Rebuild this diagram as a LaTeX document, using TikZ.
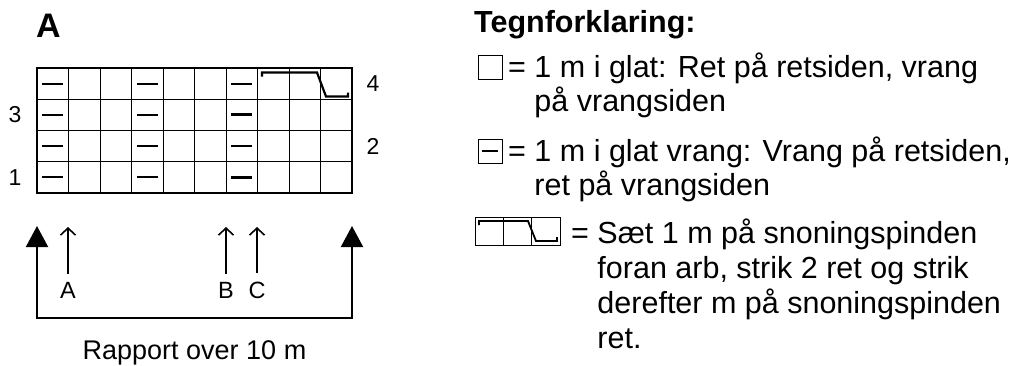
\documentclass[tikz,border=0pt]{standalone}
\usepackage{fontspec}
\setmainfont{Liberation Sans}
\usetikzlibrary{arrows.meta}
\begin{document}
\begin{tikzpicture}[x=1pt,y=-1pt,
  gridline/.style={line width=0.9pt},
  chartframe/.style={line width=2.2pt},
  purl/.style={line width=2pt},
  purlbold/.style={line width=2.8pt},
  cablepath/.style={line width=2.2pt, line join=miter},
  rownum/.style={font=\fontsize{23}{23}\selectfont, inner sep=0pt},
  posmark/.style={font=\fontsize{23.5}{23.5}\selectfont, inner sep=0pt},
  legtext/.style={font=\fontsize{30.5}{35}\selectfont, inner sep=0pt, anchor=base west},
  smallarrow/.style={line width=1.6pt, -{Straight Barb[length=7pt,width=15pt]}},
  bigarrow/.style={line width=2pt, {Triangle[length=21pt,width=22pt]}-{Triangle[length=21pt,width=22pt]}},
  legbox/.style={line width=1pt}
]
\useasboundingbox (0,0) rectangle (1015,365);

% chart title
\node[font=\fontsize{34}{34}\selectfont\bfseries, inner sep=0pt, anchor=base] (title) at (48.5,37) {A};

% chart grid: 10 stitches x 4 rows
\foreach \i in {1,...,9}
  \draw[gridline] ({37+31.5*\i},68) -- ({37+31.5*\i},193);
\foreach \j in {1,2,3}
  \draw[gridline] (37,{68+31.25*\j}) -- (352,{68+31.25*\j});
\draw[chartframe] (37,68) rectangle (352,193);

% purl stitches in columns 1 and 4
\foreach \c in {0,3}
  \foreach \r in {0,...,3}
    \draw[purl] ({37+31.5*\c+5.25},{83.6+31.25*\r}) -- ++(21,0);
% purl stitches in column 7
\foreach \r/\w in {0/purl,1/purlbold,2/purl,3/purlbold}
  \draw[\w] ({37+31.5*6+5.25},{83.6+31.25*\r}) -- ++(21,0);

% cable over three stitches in row 4
\draw[cablepath] (262,76.5) -- (262,72.5) -- (317,72.5) -- (326,96.5) -- (348,96.5) -- (348,92.5);

% row numbers
\node[rownum] (r3) at (15,115) {3};
\node[rownum] (r1) at (15,177.5) {1};
\node[rownum] (r4) at (373,83.5) {4};
\node[rownum] (r2) at (373,146) {2};

% repeat bracket
\coordinate (lt) at (37,226);
\coordinate (lb) at (37,318);
\coordinate (rb) at (352,318);
\coordinate (rt) at (352,226);
\draw[bigarrow] (lt) -- (lb) -- (rb) -- (rt);

% size markers
\node[posmark] (mA) at (68,290) {A};
\node[posmark] (mB) at (226,290) {B};
\node[posmark] (mC) at (257,290) {C};
\coordinate (tA) at (68,227);
\coordinate (tB) at (226,227);
\coordinate (tC) at (257,227);
\draw[smallarrow, shorten <=8pt] (mA) -- (tA);
\draw[smallarrow, shorten <=8pt] (mB) -- (tB);
\draw[smallarrow, shorten <=8pt] (mC) -- (tC);

\node[font=\fontsize{27}{27}\selectfont, inner sep=0pt, anchor=base] (rep) at (194.5,359) {Rapport over 10 m};

% legend
\node[font=\fontsize{30.5}{30.5}\selectfont\bfseries, inner sep=0pt, anchor=base west] (leghead) at (474,32) {Tegnforklaring:};

\draw[legbox] (478,55) rectangle (502,79);
\node[legtext] (l1a) at (508,77) {= 1 m i glat: Ret på retsiden, vrang};
\node[legtext] (l1b) at (508,111) {\phantom{= }på vrangsiden};

\draw[legbox] (478,139) rectangle (502,163);
\draw[line width=1.5pt] (482,151) -- (498,151);
\node[legtext] (l2a) at (508,161) {= 1 m i glat vrang: Vrang på retsiden,};
\node[legtext] (l2b) at (508,195) {\phantom{= }ret på vrangsiden};

\draw[legbox] (475,217) rectangle (560,245);
\draw[legbox] (503.3,217) -- (503.3,245);
\draw[legbox] (531.7,217) -- (531.7,245);
\draw[line width=1.8pt, line join=miter] (479,225) -- (479,221) -- (528,221) -- (536,241) -- (557,241) -- (557,237);
\node[legtext] (l3a) at (571,243) {= Sæt 1 m på snoningspinden};
\node[legtext] (l3b) at (571,278) {\phantom{= }foran arb, strik 2 ret og strik};
\node[legtext] (l3c) at (571,313) {\phantom{= }derefter m på snoningspinden};
\node[legtext] (l3d) at (571,348) {\phantom{= }ret.};
\end{tikzpicture}
\end{document}
